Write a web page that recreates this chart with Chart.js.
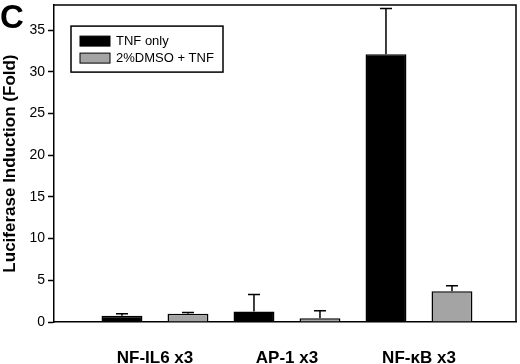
<!DOCTYPE html>
<html>
<head>
<meta charset="utf-8">
<script src="https://cdn.jsdelivr.net/npm/chart.js@4"></script>
<style>
  html, body { margin: 0; padding: 0; background: #fff; }
  #wrap { width: 520px; height: 364px; }
</style>
</head>
<body>
<div id="wrap"><canvas id="lucChart"></canvas></div>
<script>
// values
const groups = ['NF-IL6 x3', 'AP-1 x3', 'NF-\u03baB x3']
const tnfOnly = [0.75, 1.25, 32.1]
const tnfOnlyErr = [0.25, 2.05, 5.5]
const dmsoTnf = [1.0, 0.45, 3.7]
const dmsoTnfErr = [0.15, 0.9, 0.65]
const seriesNames = ['TNF only', '2%DMSO + TNF']
const yTicks = [0, 5, 10, 15, 20, 25, 30, 35]
const yMax = 38

const FONT = '"Liberation Sans", Arial, sans-serif'

function toPoints(vals) {
    return vals.map((v, i) => ({ x: i, y: v }))
}

// upper-only error bars
const errorBars = {
    id: 'errorBars',
    afterDatasetsDraw(chart) {
        const ctx = chart.ctx
        const y = chart.scales.y
        ctx.save()
        ctx.strokeStyle = '#000'
        ctx.lineWidth = 1.5
        chart.data.datasets.forEach((ds, di) => {
            const meta = chart.getDatasetMeta(di)
            meta.data.forEach((bar, i) => {
                const top = y.getPixelForValue(ds.data[i].y + ds.errors[i])
                ctx.beginPath()
                ctx.moveTo(bar.x, bar.y)
                ctx.lineTo(bar.x, top)
                ctx.moveTo(bar.x - 6, top)
                ctx.lineTo(bar.x + 6, top)
                ctx.stroke()
            })
        })
        ctx.restore()
    }
}

// box round the plot, legend box, panel letter
const frame = {
    id: 'frame',
    afterDraw(chart) {
        const ctx = chart.ctx
        const a = chart.chartArea
        ctx.save()
        ctx.strokeStyle = '#000'
        ctx.lineWidth = 1.5
        ctx.beginPath()
        ctx.moveTo(a.left, a.top)
        ctx.lineTo(a.right, a.top)
        ctx.lineTo(a.right, a.bottom)
        ctx.stroke()

        // legend
        const lx = a.left + 17, ly = a.top + 21
        ctx.lineWidth = 1.5
        ctx.strokeRect(lx, ly, 152, 46)
        ctx.font = '13px ' + FONT
        ctx.textBaseline = 'middle'
        chart.data.datasets.forEach((ds, i) => {
            const cy = ly + 15 + i * 17
            ctx.fillStyle = ds.backgroundColor
            ctx.fillRect(lx + 9, cy - 5, 30, 10)
            ctx.lineWidth = 1
            ctx.strokeRect(lx + 9, cy - 5, 30, 10)
            ctx.fillStyle = '#000'
            ctx.fillText(ds.label, lx + 45, cy)
        })

        ctx.font = 'bold 33px ' + FONT
        ctx.textBaseline = 'alphabetic'
        ctx.fillStyle = '#000'
        ctx.fillText('C', 0, 28)
        ctx.restore()
    }
}

const lucCtx = document.getElementById('lucChart').getContext('2d')
const lucChart = new Chart(lucCtx, {
    type: 'bar',
    data: {
        datasets: [
            {
                label: seriesNames[0],
                data: toPoints(tnfOnly),
                errors: tnfOnlyErr,
                backgroundColor: '#000000',
                borderColor: '#000000',
                borderWidth: 1.5
            },
            {
                label: seriesNames[1],
                data: toPoints(dmsoTnf),
                errors: dmsoTnfErr,
                backgroundColor: '#a4a4a4',
                borderColor: '#000000',
                borderWidth: 1.5
            }
        ]
    },
    plugins: [errorBars, frame],
    options: {
        responsive: true,
        maintainAspectRatio: false,
        animation: false,
        layout: {
            padding: { top: 0, right: 4, left: 0, bottom: 0 }
        },
        datasets: {
            bar: {
                categoryPercentage: 1.0,
                barPercentage: 0.62
            }
        },
        plugins: {
            legend: { display: false },
            tooltip: { enabled: false }
        },
        scales: {
            x: {
                type: 'linear',
                offset: false,
                min: -0.765,
                max: 2.735,
                afterBuildTicks: (scale) => {
                    scale.ticks = groups.map((g, i) => ({ value: i }))
                },
                afterFit: (scale) => { scale.height = 42 },
                grid: { display: false, drawTicks: false },
                border: { display: true, color: '#000', width: 1.5 },
                ticks: {
                    padding: 26,
                    color: '#000',
                    maxRotation: 0,
                    autoSkip: false,
                    font: { family: FONT, size: 17, weight: 'bold' },
                    callback: (v) => groups[v]
                }
            },
            y: {
                min: 0,
                max: yMax,
                afterBuildTicks: (scale) => {
                    scale.ticks = yTicks.map(v => ({ value: v }))
                },
                afterFit: (scale) => { scale.width = 54 },
                grid: {
                    drawOnChartArea: false,
                    drawTicks: true,
                    tickLength: 6,
                    tickWidth: 1.5,
                    color: '#000'
                },
                border: { display: true, color: '#000', width: 1.5 },
                ticks: {
                    padding: 3,
                    color: '#000',
                    font: { family: FONT, size: 14, lineHeight: 0.3 }
                },
                title: {
                    display: true,
                    text: 'Luciferase Induction (Fold)',
                    color: '#000',
                    padding: 0,
                    font: { family: FONT, size: 17, weight: 'bold' }
                }
            }
        }
    }
})
</script>
</body>
</html>
